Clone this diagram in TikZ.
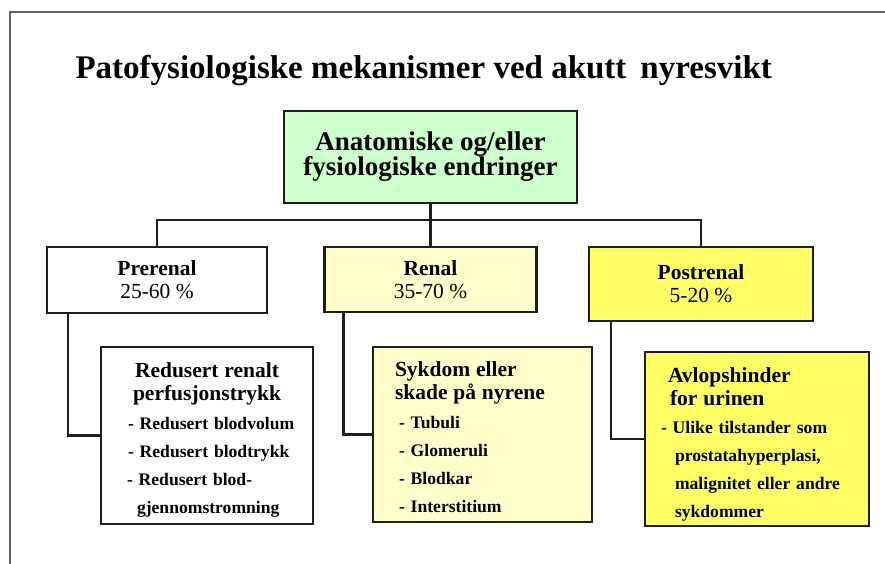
\documentclass[tikz,border=0pt]{standalone}
\usepackage{fontspec}
\setmainfont{Liberation Serif}
\usepackage{tikz}
\usetikzlibrary{calc}
\definecolor{mygreen}{RGB}{204, 255, 204}
\definecolor{myyellow1}{RGB}{255, 255, 204}
\definecolor{myyellow2}{RGB}{255, 255, 102}
\definecolor{mygray1}{RGB}{96, 96, 96}
\definecolor{mydark}{RGB}{30, 30, 30}
\newcommand{\boxhead}[1]{{\fontsize{21.5}{23}\selectfont #1}}

\begin{document}
\begin{tikzpicture}[
    x = 1pt, y = -1pt,
    b0/.style = {draw = mydark, line width = 2.5pt, inner sep = 0pt},
    b1/.style = {b0, align = center, font = \fontsize{21.5}{23}\selectfont},
    b2/.style = {b0, align = left, font = \bfseries\fontsize{17.6}{23}\selectfont},
    l0/.style = {draw = mydark, line width = 2.5pt}
]
\useasboundingbox (0,0) rectangle (885,564);
\draw[mygray1, line width = 1.2pt] (10,564) -- (10,12) -- (885,12);

\node[anchor = base west, font = \bfseries\fontsize{33}{36}\selectfont] (title) at (72,79) {Patofysiologiske mekanismer ved akutt\hspace{14pt}nyresvikt};

% top box and the three groups
\node[b0, fill = mygreen, minimum width = 293pt, minimum height = 92pt, align = center, font = \bfseries\fontsize{27}{25}\selectfont] (top) at (430.5,157) {Anatomiske og/eller\\fysiologiske endringer};

\node[b1, fill = white, minimum width = 220pt, minimum height = 66pt] (pre) at (157,280) {\textbf{Prerenal}\\25-60 \%};
\node[b1, fill = myyellow1, minimum width = 212pt, minimum height = 65pt] (ren) at (430.5,279.5) {\textbf{Renal}\\35-70 \%};
\node[b1, fill = myyellow2, minimum width = 224pt, minimum height = 74pt] (post) at (701,284) {\textbf{Postrenal}\\5-20 \%};

% detail boxes
\node[b2, fill = white, text width = 212pt, minimum height = 177pt] (d1) at (207,435.5) {\rule{0pt}{22.9pt}\hspace*{34pt}\boxhead{Redusert renalt}\\
\hspace*{32pt}\boxhead{perfusjonstrykk}\\[6pt]
\hspace*{27pt}- Redusert blodvolum\\[5pt]
\hspace*{27pt}- Redusert blodtrykk\\[5pt]
\hspace*{26pt}- Redusert blod-\\[5pt]
\hspace*{36pt}gjennomstromning};

\node[b2, fill = myyellow1, text width = 219pt, minimum height = 175pt] (d2) at (482.5,434.5) {\rule{0pt}{21pt}\hspace*{22pt}\boxhead{Sykdom eller}\\
\hspace*{22pt}\boxhead{skade på nyrene}\\[6pt]
\hspace*{26pt}- Tubuli\\[5pt]
\hspace*{26pt}- Glomeruli\\[5pt]
\hspace*{26pt}- Blodkar\\[5pt]
\hspace*{26pt}- Interstitium};

\node[b2, fill = myyellow2, text width = 224pt, minimum height = 174pt] (d3) at (757,439) {\rule{0pt}{24.9pt}\hspace*{23pt}\boxhead{Avlopshinder}\\
\hspace*{25pt}\boxhead{for urinen}\\[5pt]
\hspace*{16pt}- Ulike tilstander som\\[5pt]
\hspace*{30pt}prostatahyperplasi,\\[5pt]
\hspace*{30pt}malignitet eller andre\\[5pt]
\hspace*{30pt}sykdommer};

% connectors
\coordinate (bus) at (430.5,220);
\draw[l0] (top.south) -- (bus);
\draw[l0] (pre.north) |- (bus) -| (post.north);
\draw[l0] (bus) -- (ren.north);
\draw[l0] ([xshift = 22pt]pre.south west) |- (d1.west);
\draw[l0] ([xshift = 20pt]ren.south west) |- (d2.west);
\draw[l0] ([xshift = 23pt]post.south west) |- (d3.west);

\end{tikzpicture}
\end{document}
